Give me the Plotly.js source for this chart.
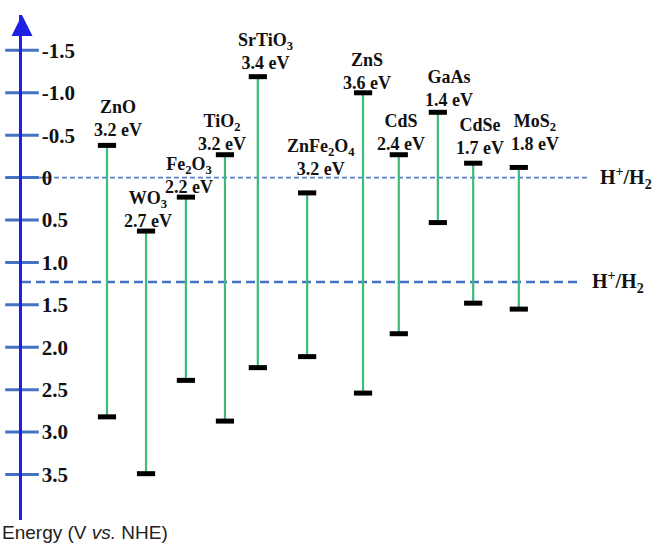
<!DOCTYPE html>
<html>
<head>
<meta charset="utf-8">
<script src="https://cdn.plot.ly/plotly-3.0.1.min.js"></script>
<style>
html,body{margin:0;padding:0;background:#fff;}
#chart{width:662px;height:546px;}
</style>
</head>
<body>
<div id="chart"></div>
<script>
// ---- data ----
const materials = ['ZnO','WO3','Fe2O3','TiO2','SrTiO3','ZnFe2O4','ZnS','CdS','GaAs','CdSe','MoS2'];
const materialLabels = ['ZnO','WO<sub>3</sub>','Fe<sub>2</sub>O<sub>3</sub>','TiO<sub>2</sub>','SrTiO<sub>3</sub>','ZnFe<sub>2</sub>O<sub>4</sub>','ZnS','CdS','GaAs','CdSe','MoS<sub>2</sub>'];
const bandGapText = ['3.2','2.7','2.2','3.2','3.4','3.2','3.6','2.4','1.4','1.7','1.8'];
const xSlot = [1.00,1.95,2.92,3.87,4.67,5.87,7.23,8.10,9.05,9.91,11.02];
const cbEdge = [-0.38,0.63,0.23,-0.27,-1.19,0.18,-1.00,-0.27,-0.77,-0.17,-0.12];
const vbEdge = [2.82,3.49,2.39,2.87,2.24,2.11,2.54,1.84,0.53,1.48,1.55];
const yTickVals = [-1.5,-1.0,-0.5,0,0.5,1.0,1.5,2.0,2.5,3.0,3.5];
const yTickText = ['-1.5','-1.0','-0.5','0','0.5','1.0','1.5','2.0','2.5','3.0','3.5'];
const refLevels = [0, 1.23];
const refLabels = ['H<sup>+</sup>/H<sub>2</sub>','H<sup>+</sup>/H<sub>2</sub>'];
const axisTitle = 'Energy (V <i>vs.</i> NHE)';

// ---- layout-only style settings ----
const labelOffsets = [[11,16],[2,11],[3,11],[-3,12],[8,15],[14,25],[4,11],[2,12],[11,13],[7,16],[16,24]]; // [dx px, dy px]
const refLineStyle = [
  {x1:0.884, color:'#5B7FC7', width:1.6, dash:'5px,3px', labelX:0.900},
  {x1:0.875, color:'#4472C4', width:2.4, dash:'9px,5px', labelX:0.887}
];
const serif = '"Liberation Serif","Times New Roman",serif';
const xRange = [-1.068, 14.504];
const yRange = [4.036, -1.917];

// ---- traces ----
const lineX = [], lineY = [];
materials.forEach((m,i)=>{ lineX.push(xSlot[i], xSlot[i], null); lineY.push(cbEdge[i], vbEdge[i], null); });
const bars = {
  type:'scatter', mode:'lines', x:lineX, y:lineY,
  line:{color:'#3DBB7A', width:2.2}, hoverinfo:'skip', showlegend:false
};
const caps = {
  type:'scatter', mode:'markers',
  x: xSlot.concat(xSlot), y: cbEdge.concat(vbEdge),
  marker:{symbol:'line-ew', size:13, color:'#000', line:{color:'#000', width:5}},
  hoverinfo:'skip', showlegend:false
};
const tickDashes = {
  type:'scatter', mode:'markers',
  x: yTickVals.map(()=>xRange[0]), y: yTickVals,
  marker:{symbol:'line-ew', size:24, line:{color:'#4472C4', width:3}},
  cliponaxis:false, hoverinfo:'skip', showlegend:false
};

// ---- annotations & shapes ----
const annotations = materials.map((m,i)=>({
  x:xSlot[i], y:cbEdge[i], xref:'x', yref:'y',
  text: materialLabels[i] + '<br>' + bandGapText[i] + ' eV',
  showarrow:false, xanchor:'center', yanchor:'bottom',
  xshift: labelOffsets[i][0], yshift: labelOffsets[i][1] - 13,
  font:{family:serif, size:18, color:'#111', weight:'bold'}
}));
refLevels.forEach((v,i)=>{
  annotations.push({
    x:refLineStyle[i].labelX, y:v, xref:'paper', yref:'y',
    text:refLabels[i], showarrow:false, xanchor:'left', yanchor:'middle',
    font:{family:serif, size:20, color:'#111', weight:'bold'}
  });
});
annotations.push({
  x:0, y:1, xref:'paper', yref:'paper', ax:0, ay:16, axref:'pixel', ayref:'pixel',
  text:'', showarrow:true, arrowhead:2, arrowsize:1.4, arrowwidth:3, arrowcolor:'#1F1FE6'
});
annotations.push({
  x:-22/640, y:0, xref:'paper', yref:'paper', xanchor:'left', yanchor:'top', yshift:0,
  text:axisTitle, showarrow:false,
  font:{family:'"Liberation Sans",Arial,sans-serif', size:19, color:'#222'}
});
const shapes = refLevels.map((v,i)=>({
  type:'line', xref:'paper', yref:'y', x0:0, x1:refLineStyle[i].x1, y0:v, y1:v,
  line:{color:refLineStyle[i].color, width:refLineStyle[i].width, dash:refLineStyle[i].dash},
  layer:'below'
}));

const layout = {
  width:662, height:546,
  margin:{l:22, r:0, t:15, b:26, pad:0},
  paper_bgcolor:'#fff', plot_bgcolor:'#fff',
  showlegend:false,
  xaxis:{range:xRange, visible:false, fixedrange:true},
  yaxis:{
    range:yRange, showgrid:false, zeroline:false,
    showline:true, linecolor:'#1F1FE6', linewidth:3,
    ticks:'', tickvals:yTickVals, ticktext:yTickText,
    ticklabelposition:'inside', ticklabelstandoff:21,
    tickfont:{family:serif, size:21, color:'#111', weight:'bold'},
    fixedrange:true
  },
  annotations: annotations,
  shapes: shapes
};

Plotly.newPlot('chart', [bars, caps, tickDashes], layout, {displayModeBar:false, staticPlot:true});
</script>
</body>
</html>
